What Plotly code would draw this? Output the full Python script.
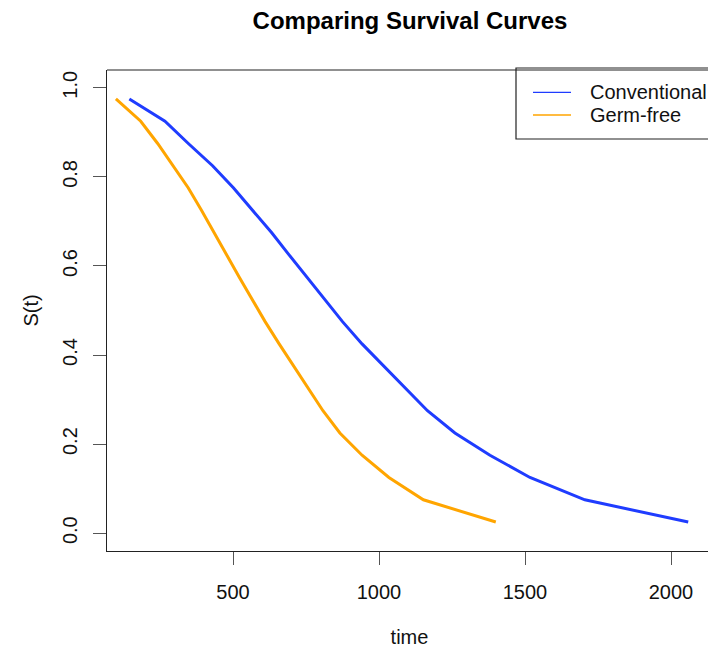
import plotly.graph_objects as go

# Survival levels (step 0.05) and the times at which each curve reaches them
surv_levels = [0.975, 0.925, 0.875, 0.825, 0.775, 0.725, 0.675, 0.625, 0.575, 0.525,
               0.475, 0.425, 0.375, 0.325, 0.275, 0.225, 0.175, 0.125, 0.075, 0.025]
conventional_time = [145, 267, 347, 430, 502, 567, 632, 692, 752, 812,
                     875, 942, 1017, 1092, 1166, 1260, 1380, 1517, 1705, 2059]
germfree_time = [99, 184, 242, 296, 347, 392, 436, 478, 521, 565,
                 610, 658, 709, 757, 808, 866, 942, 1034, 1152, 1400]

series_names = ["Conventional", "Germ-free"]
series_colors = ["#1f3cff", "#ffa500"]

x_ticks = [500, 1000, 1500, 2000]
y_ticks = [0.0, 0.2, 0.4, 0.6, 0.8, 1.0]
y_tick_text = ["0.0", "0.2", "0.4", "0.6", "0.8", "1.0"]

FONT = "Liberation Sans, Arial, Helvetica, sans-serif"
# the original plot box runs slightly past the right edge of the 708px window
W, H = 712, 648
PLOT_L, PLOT_R, PLOT_T, PLOT_B = 107, 712, 70, 551  # plot box in page pixels
L, R, T, B = PLOT_L, W - PLOT_R, PLOT_T, H - PLOT_B


def px(x):
    return (x - PLOT_L) / (PLOT_R - PLOT_L)


def py(y):
    return (PLOT_B - y) / (PLOT_B - PLOT_T)


fig = go.Figure()
for name, times, col in zip(series_names, [conventional_time, germfree_time], series_colors):
    fig.add_trace(go.Scatter(x=times, y=surv_levels, mode="lines", name=name,
                             line=dict(color=col, width=3), showlegend=False))

shapes = [
    dict(type="line", xref="paper", yref="paper", x0=0, x1=1.0, y0=1, y1=1,
         line=dict(color="#222", width=1.2)),
    dict(type="rect", xref="paper", yref="paper", x0=px(516), x1=1.05, y0=py(139), y1=py(68),
         line=dict(color="#222", width=1.2), fillcolor="rgba(0,0,0,0)"),
]
annotations = []
legend_y = [92.3, 115]
for name, col, yy in zip(series_names, series_colors, legend_y):
    shapes.append(dict(type="line", xref="paper", yref="paper", x0=px(533), x1=px(571),
                       y0=py(yy), y1=py(yy), line=dict(color=col, width=1.3)))
    annotations.append(dict(text=name, xref="paper", yref="paper", x=px(588), y=py(yy),
                            xanchor="left", yanchor="middle", showarrow=False,
                            font=dict(family=FONT, size=20, color="#111")))

fig.update_layout(
    width=W, height=H,
    margin=dict(l=L, r=R, t=T, b=B),
    paper_bgcolor="white", plot_bgcolor="white",
    font=dict(family=FONT, size=20, color="#111"),
    title=dict(text="<b>Comparing Survival Curves</b>", x=410 / W, xanchor="center",
               y=1 - 21 / H, yanchor="middle", xref="container", yref="container",
               font=dict(family=FONT, size=24, color="#000")),
    xaxis=dict(range=[(PLOT_L - 87) / 0.292, (PLOT_R - 87) / 0.292], tickvals=x_ticks,
               showgrid=False, zeroline=False, showline=True, linecolor="#222", linewidth=1.2,
               ticks="outside", ticklen=13, tickcolor="#555", tickwidth=1.2,
               ticklabelstandoff=10,
               tickfont=dict(size=20, color="#111"),
               title=dict(text="time", standoff=28, font=dict(size=20, color="#111"))),
    yaxis=dict(range=[-0.04, 1.04], tickvals=y_ticks, ticktext=y_tick_text, tickangle=-90,
               showgrid=False, zeroline=False, showline=True, linecolor="#222", linewidth=1.2,
               ticks="outside", ticklen=13, tickcolor="#555", tickwidth=1.2,
               ticklabelstandoff=8,
               tickfont=dict(size=20, color="#111"),
               title=dict(text="S(t)", standoff=14, font=dict(size=20, color="#111"))),
    shapes=shapes, annotations=annotations,
)

# remove the browser's default page margin so the figure fills the window exactly
fig.write_html("out.html",
               config={"displayModeBar": False},
               post_script="document.body.style.margin='0';"
                           "document.documentElement.style.overflow='hidden';")
